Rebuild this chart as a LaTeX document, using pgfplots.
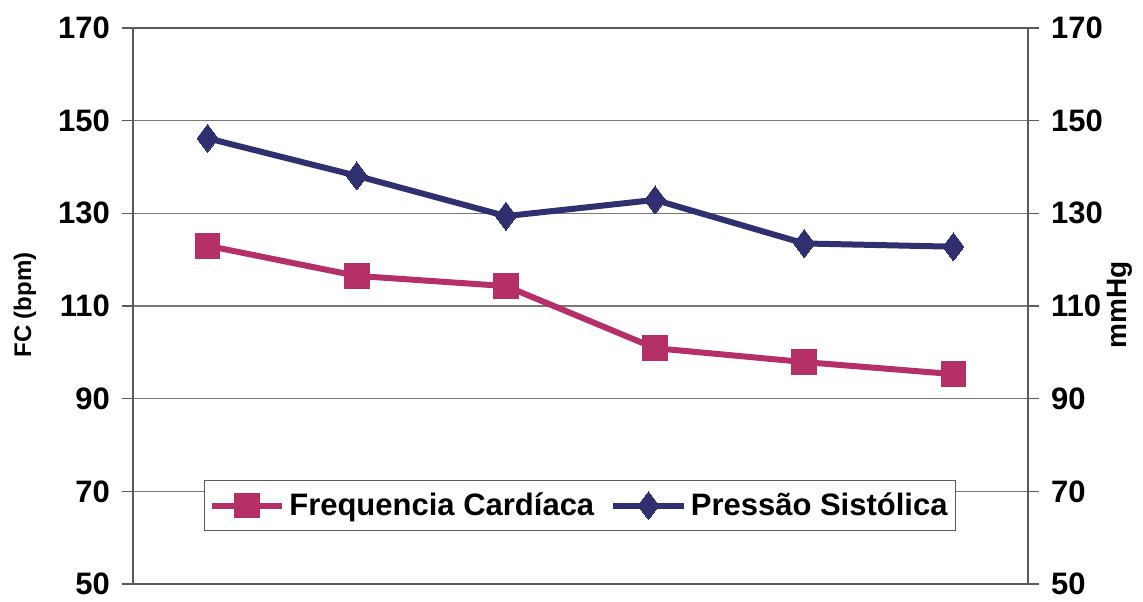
\documentclass[border=0pt]{standalone}
\usepackage{pgfplots}
\pgfplotsset{compat=1.18}
\usepackage{fontspec}
\setmainfont{Liberation Sans}
\definecolor{fcpink}{RGB}{180,48,102}
\definecolor{psblue}{RGB}{48,48,112}
\definecolor{axgray}{RGB}{90,90,90}
\definecolor{gridgray}{RGB}{120,120,120}
\begin{document}
\begin{tikzpicture}
\pgfplotsset{
  common/.style={
    scale only axis, width=447.5pt, height=278pt,
    at={(0,0)}, anchor=south west,
    xmin=-0.5, xmax=5.5, ymin=50, ymax=170,
    ytick={50,70,...,170},
    tick label style={font=\fontsize{15.5}{18}\selectfont\bfseries},
    /pgf/number format/assume math mode=true,
    major tick length=5.5pt,
    tick style={color=axgray, line width=0.8pt},
    axis line style={color=axgray, line width=0.9pt},
  }
}
\begin{axis}[common,
  axis y line*=left, axis x line=box,
  xtick=\empty,
  tick align=outside,
  yticklabel style={xshift=-2.5pt},
  ymajorgrids, grid style={gridgray, line width=0.6pt},
  legend style={at={(0.0795,0.0953)}, anchor=south west, draw=axgray, line width=0.6pt,
    font=\fontsize{15.5}{18}\selectfont\bfseries, legend columns=2,
    inner xsep=2pt, inner ysep=4pt,
    /tikz/every even column/.append style={column sep=6pt}},
  legend cell align=left,
  legend image code/.code={\draw[#1, mark repeat=2, mark phase=2] plot coordinates {(0cm,0cm) (0.62cm,0cm) (1.24cm,0cm)};},
]
\addplot[color=fcpink, line width=3pt, mark=square*, mark size=6.2pt, mark options={solid, line width=0pt}]
  coordinates {(0,123.0) (1,116.5) (2,114.3) (3,100.9) (4,97.9) (5,95.3)};
\addlegendentry{Frequencia Cardíaca}
\addplot[color=psblue, line width=3pt, mark=diamond*, mark size=7pt, mark options={solid, line width=0pt}]
  coordinates {(0,146.2) (1,138.1) (2,129.4) (3,132.9) (4,123.5) (5,122.8)};
\addlegendentry{Pressão Sistólica}
\end{axis}
\begin{axis}[common,
  axis y line*=right, axis x line=none,
  xtick=\empty,
  tick align=outside,
  yticklabel style={xshift=2.5pt},
]
\addplot[draw=none] coordinates {(0,50)};
\end{axis}
\node[rotate=90, font=\fontsize{12}{14}\selectfont\bfseries] at (-54pt,139.5pt) {FC (bpm)};
\node[rotate=90, font=\fontsize{14}{16}\selectfont\bfseries] at (493.5pt,139.5pt) {mmHg};
\pgfresetboundingbox
\path[use as bounding box] (-66.5pt,-8.5pt) rectangle (505pt,292pt);
\end{tikzpicture}
\end{document}
